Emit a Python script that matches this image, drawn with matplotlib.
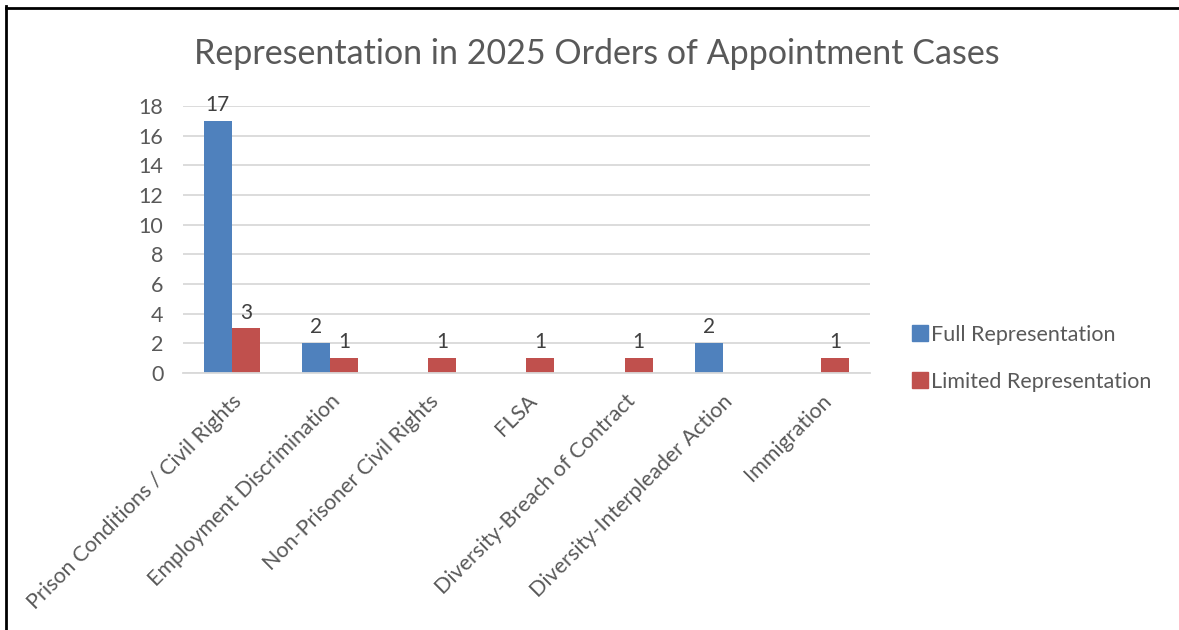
import numpy as np
from matplotlib import pyplot as plt
from matplotlib.lines import Line2D

categories = ['Prison Conditions / Civil Rights',
              'Employment Discrimination',
              'Non-Prisoner Civil Rights',
              'FLSA',
              'Diversity-Breach of Contract',
              'Diversity-Interpleader Action',
              'Immigration']
full_rep = [17, 2, 0, 0, 0, 2, 0]
limited_rep = [3, 1, 1, 1, 1, 0, 1]
series_labels = ['Full Representation', 'Limited Representation']
yticks = [0, 2, 4, 6, 8, 10, 12, 14, 16, 18]

plt.rcParams['font.family'] = ['Lato', 'DejaVu Sans']

blue = '#4F81BD'
red = '#C0504D'
gray = '#595959'

fig = plt.figure(figsize=(11.79, 6.30), dpi=100)
ax = fig.add_axes([0.155, 0.408, 0.583, 0.424])

x = np.arange(len(categories))
w = 0.285
for i, (f, l) in enumerate(zip(full_rep, limited_rep)):
    if f:
        ax.bar(x[i] - w / 2, f, w, color=blue)
        ax.text(x[i] - w / 2, f + 0.4, str(f), ha='center', va='bottom',
                fontsize=15, color='#404040')
    if l:
        ax.bar(x[i] + w / 2, l, w, color=red)
        ax.text(x[i] + w / 2, l + 0.4, str(l), ha='center', va='bottom',
                fontsize=15, color='#404040')

ax.set_xlim(-0.5, len(categories) - 0.5)
ax.set_ylim(0, 18)
ax.set_yticks(yticks)
ax.set_xticks(x)
ax.set_xticklabels(categories, rotation=45, ha='right', rotation_mode='anchor',
                   fontsize=15.5, color=gray)
ax.tick_params(axis='x', length=0, pad=13)
ax.tick_params(axis='y', length=0, labelsize=15.5, labelcolor=gray, pad=14)
ax.grid(axis='y', color='#D9D9D9', linewidth=1.3)
ax.set_axisbelow(True)
for s in ['top', 'right', 'left']:
    ax.spines[s].set_visible(False)
ax.spines['bottom'].set_color('#D9D9D9')
ax.spines['bottom'].set_linewidth(1.3)

fig.text(0.506, 0.915, 'Representation in 2025 Orders of Appointment Cases',
         ha='center', va='center', fontsize=24.5, color=gray)

handles = [Line2D([], [], marker='s', linestyle='', markersize=11, color=c)
           for c in [blue, red]]
fig.legend(handles, series_labels, loc='center left', bbox_to_anchor=(0.756, 0.431),
           frameon=False, fontsize=15.5, labelcolor=gray, handletextpad=0.05,
           labelspacing=1.25, handlelength=0.9)

# border of the original chart area
fig.add_artist(Line2D([0.0047, 0.0047], [0, 0.99], transform=fig.transFigure,
                      color='black', linewidth=2))
fig.add_artist(Line2D([0.0047, 1], [0.988, 0.988], transform=fig.transFigure,
                      color='black', linewidth=2))

fig.savefig('out.png', dpi=100)
